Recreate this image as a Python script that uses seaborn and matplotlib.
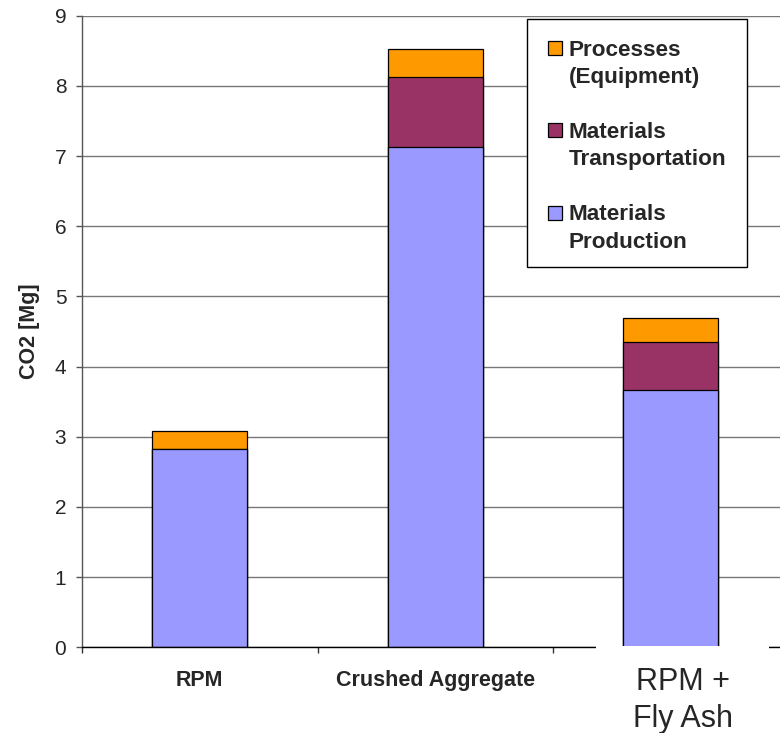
import matplotlib
matplotlib.use("Agg")
import matplotlib.pyplot as plt
import seaborn as sns
import numpy as np
import pandas as pd
from matplotlib.patches import Rectangle

# ---- data ----
categories = ["RPM", "Crushed Aggregate", "RPM + Fly Ash"]
production = [2.83, 7.13, 3.66]
transport = [0.00, 0.99, 0.69]
processes = [0.25, 0.40, 0.34]
series_names = ["Processes\n(Equipment)", "Materials\nTransportation", "Materials\nProduction"]
series_colors = ["#FF9900", "#993366", "#9999FF"]
yticks = [0, 1, 2, 3, 4, 5, 6, 7, 8, 9]

sns.set_style("white")
plt.rcParams['font.family'] = ['Liberation Sans', 'DejaVu Sans']

W, H = 780, 733
fig = plt.figure(figsize=(W / 100, H / 100), dpi=100)

def fx(px):
    return px / W

def fy(py):
    return 1 - py / H

ax_left, ax_right, ax_top, ax_bottom = 82, 788.5, 15.7, 647.3
ax = fig.add_axes([fx(ax_left), fy(ax_bottom), (ax_right - ax_left) / W, (ax_bottom - ax_top) / H])

df = pd.DataFrame({"cat": categories,
                   "prod": production,
                   "trans": transport,
                   "proc": processes})
df["lvl2"] = df["prod"] + df["trans"]
df["lvl3"] = df["lvl2"] + df["proc"]

bw = 0.404
for col, c in [("lvl3", series_colors[0]), ("lvl2", series_colors[1]), ("prod", series_colors[2])]:
    sns.barplot(data=df, x="cat", y=col, order=categories, color=c, saturation=1,
                width=bw, edgecolor="black", linewidth=0.9, ax=ax, errorbar=None, zorder=2)

ax.set_xlim(-0.5, 2.5)
ax.set_ylim(0, 9)
ax.set_yticks(yticks)
ax.set_yticklabels([str(t) for t in yticks])
ax.tick_params(axis='y', labelsize=15, direction='out', length=4.3, width=1.0,
               color='#555555', pad=7, left=True)

# major ticks at category boundaries, labels at centers (minor)
ax.set_xticks([-0.5, 0.5, 1.5, 2.5])
ax.set_xticklabels([])
ax.tick_params(axis='x', which='major', direction='out', length=4.3, width=1.0,
               color='#333333', bottom=True)
ax.set_xticks([0, 1], minor=True)
ax.set_xticklabels(categories[:2], minor=True, fontsize=15.5, fontweight='bold')
ax.tick_params(axis='x', which='minor', length=0, pad=16)

ax.set_xlabel("")
ax.set_ylabel("CO2 [Mg]", fontsize=15.5, fontweight='bold')
ax.yaxis.set_label_coords(-0.059, 0.5)

ax.grid(axis='y', color='#777777', linewidth=1.0)
ax.grid(axis='x', visible=False)
ax.set_axisbelow(True)
for s in ["top", "right"]:
    ax.spines[s].set_visible(False)
ax.spines["left"].set_color('#555555')
ax.spines["left"].set_linewidth(1.0)
ax.spines["bottom"].set_color('black')
ax.spines["bottom"].set_linewidth(1.0)

# white text box for third category label (covers axis line)
ax.add_patch(Rectangle((fx(596), fy(733)), fx(769) - fx(596), fy(646.3) - fy(733),
                       transform=fig.transFigure, facecolor='white', edgecolor='none',
                       zorder=10, clip_on=False))
ax.text(fx(683), fy(690), "RPM +", transform=fig.transFigure, ha='center', va='baseline',
        fontsize=22, zorder=11)
ax.text(fx(683), fy(727), "Fly Ash", transform=fig.transFigure, ha='center', va='baseline',
        fontsize=22, zorder=11)

# legend box
ax.add_patch(Rectangle((fx(527), fy(267)), fx(747) - fx(527), fy(19) - fy(267),
                       transform=fig.transFigure, facecolor='white', edgecolor='black',
                       linewidth=1.0, zorder=10, clip_on=False))
first_baselines = [55.7, 137.7, 220.0]
for name, c, b in zip(series_names, series_colors, first_baselines):
    ax.add_patch(Rectangle((fx(548), fy(b - 0.5)), fx(562) - fx(548), fy(b - 14.5) - fy(b - 0.5),
                           transform=fig.transFigure, facecolor=c, edgecolor='black',
                           linewidth=0.9, zorder=11, clip_on=False))
    lines = name.split("\n")
    for i, line in enumerate(lines):
        ax.text(fx(569), fy(b + 27.5 * i), line, transform=fig.transFigure,
                ha='left', va='baseline', fontsize=16.2, fontweight='bold', zorder=12)

fig.savefig("out.png", dpi=100)
